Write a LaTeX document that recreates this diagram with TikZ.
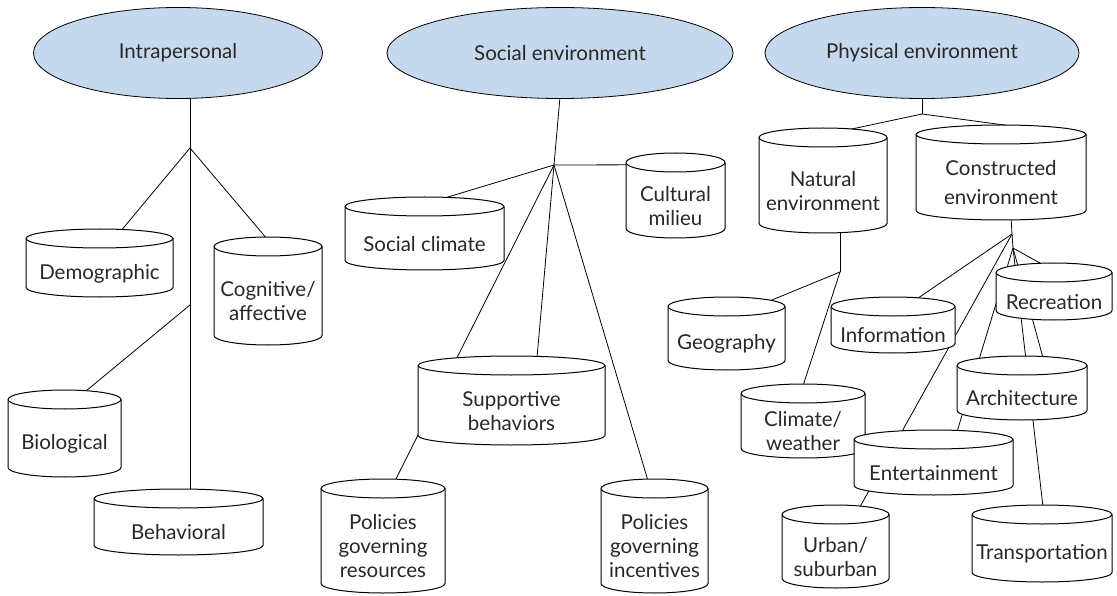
\documentclass[tikz,border=0pt]{standalone}
\usepackage{fontspec}
\setmainfont{Lato}
\usetikzlibrary{calc,shapes.geometric}
\pgfdeclarelayer{bg}
\pgfsetlayers{bg,main}
\definecolor{ellfill}{RGB}{198,216,238}
\definecolor{txtcol}{RGB}{40,40,40}
\tikzset{
  cylout/.style={draw=black, line width=1pt, fill=white},
  conn/.style={draw=black, line width=0.8pt},
  topell/.style={ellipse, draw=black, line width=0.8pt, fill=ellfill, inner sep=0pt,
    text=txtcol, font=\fontsize{20.5}{24}\selectfont},
  boxnode/.style={rectangle, inner sep=0pt, draw=none},
  cyltext/.style={align=center, inner sep=0pt, text=txtcol, font=\fontsize{20.5}{24}\selectfont}
}
\newcommand\cry{9.5}
% name, x1, y1, x2, y2, text
\newcommand\cyl[6]{%
  \pgfmathsetmacro\cxa{(#2+#4)/2}%
  \pgfmathsetmacro\cya{-(#3+#5)/2}%
  \pgfmathsetmacro\crx{(#4-#2)/2}%
  \pgfmathsetmacro\cwd{#4-#2}%
  \pgfmathsetmacro\cht{#5-#3}%
  \pgfmathsetmacro\cty{-(#3+2*\cry+#5)/2-1}%
  \path[cylout] (#2,-#3-\cry) -- (#2,-#5+\cry)
     arc[start angle=180,end angle=360,x radius=\crx,y radius=\cry]
     -- (#4,-#3-\cry)
     arc[start angle=0,end angle=180,x radius=\crx,y radius=\cry] -- cycle;
  \draw[line width=1pt] (#2,-#3-\cry) arc[start angle=180,end angle=360,x radius=\crx,y radius=\cry];
  \node[boxnode, minimum width=\cwd pt, minimum height=\cht pt] (#1) at (\cxa,\cya) {};
  \node[cyltext] (#1t) at (\cxa,\cty) {#6};
}
\begin{document}
\begin{tikzpicture}[x=1pt,y=1pt]
\useasboundingbox (0,0) rectangle (1117,-596);

% top ellipses
\node[topell, minimum width=289pt, minimum height=91pt] (E1) at (178,-53) {Intrapersonal};
\node[topell, minimum width=346pt, minimum height=91pt] (E2) at (560,-53) {Social environment};
\node[topell, minimum width=314pt, minimum height=91pt] (E3) at (922,-53) {Physical environment};

% cylinders
\cyl{dem}{26}{229}{173}{297}{Demographic}
\cyl{cog}{214}{237}{322}{345}{Cognitive/\\affective}
\cyl{bio}{8}{390}{121}{477}{Biological}
\cyl{beh}{94}{489}{263}{555}{Behavioral}
\cyl{soc}{345}{197}{504}{270}{Social climate}
\cyl{cul}{626}{153}{725}{238}{Cultural\\milieu}
\cyl{sup}{418}{356}{605}{445}{Supportive\\behaviors}
\cyl{pgr}{321}{479}{445}{593}{Policies\\governing\\resources}
\cyl{pgi}{601}{479}{708}{593}{Policies\\governing\\incentives}
\cyl{nat}{759}{128}{887}{233}{Natural\\environment}
\cyl{con}{916}{125}{1086}{220}{Constructed\\[5pt]environment}
\cyl{geo}{668}{297}{785}{370}{Geography}
\cyl{cli}{741}{384}{865}{458}{Climate/\\weather}
\cyl{inf}{831}{297}{955}{353}{Information}
\cyl{rec}{996}{263}{1112}{320}{Recreation}
\cyl{arc}{957}{356}{1087}{420}{Architecture}
\cyl{ent}{854}{430}{1013}{495}{Entertainment}
\cyl{urb}{782}{505}{889}{588}{Urban/\\suburban}
\cyl{tra}{972}{505}{1112}{582}{Transportation}

% hubs
\coordinate (h1) at (190,-148);
\coordinate (h1b) at (190,-305);
\coordinate (h2) at (554,-165);
\coordinate (hp) at (922,-114);
\coordinate (hn) at (840,-272);
\coordinate (hc1) at (1012,-234);
\coordinate (hc2) at (1013,-248);

\begin{pgfonlayer}{bg}
  % intrapersonal
  \draw[conn] ([xshift=12pt]E1.center) -- (h1);
  \draw[conn] (h1) -- ($(dem.north)+(21.5,-2)$);
  \draw[conn] (h1) -- ($(cog.north)+(-1,-2)$);
  \draw[conn] (h1) -- ($(beh.north)+(11.5,-3)$);
  \draw[conn] (h1b) -- ($(bio.north)+(20.5,-2)$);
  % social
  \draw[conn] ([yshift=2pt]E2.south) -- (h2);
  \draw[conn] (h2) -- ($(cul.north)+(-35.5,-12)$);
  \draw[conn] (h2) -- ($(soc.north)+(17.5,-2)$);
  \draw[conn] (h2) -- ($(pgr.north)+(12,-2)$);
  \draw[conn] (h2) -- ($(sup.north)+(25.5,-2)$);
  \draw[conn] (h2) -- ($(pgi.north)+(-6.5,-2)$);
  % physical
  \draw[conn] ([yshift=2pt]E3.south) -- (hp);
  \draw[conn] (hp) -- ($(nat.north)+(25,-2)$);
  \draw[conn] (hp) -- ($(con.north)+(17,-2)$);
  \draw[conn] ([xshift=17pt,yshift=3pt]nat.south) -- (hn);
  \draw[conn] (hn) -- ($(geo.north)+(43.5,-4)$);
  \draw[conn] (hn) -- ($(cli.north)+(0,-2)$);
  \draw[conn] ([xshift=10pt,yshift=3pt]con.south) -- (hc1);
  \draw[conn] (hc1) -- ($(inf.north)+(24,-2)$);
  \draw[conn] (hc1) -- ($(urb.north)+(24.5,-2)$);
  \draw[conn] (hc1) -- (hc2);
  \draw[conn] (hc2) -- ($(rec.north)+(-11,-2)$);
  \draw[conn] (hc2) -- ($(tra.north)+(1,-2)$);
  \draw[conn] (hc2) -- ($(arc.north)+(21,-2)$);
  \draw[conn] (hc2) -- ($(ent.north)+(23.5,-2)$);
\end{pgfonlayer}
\end{tikzpicture}
\end{document}
